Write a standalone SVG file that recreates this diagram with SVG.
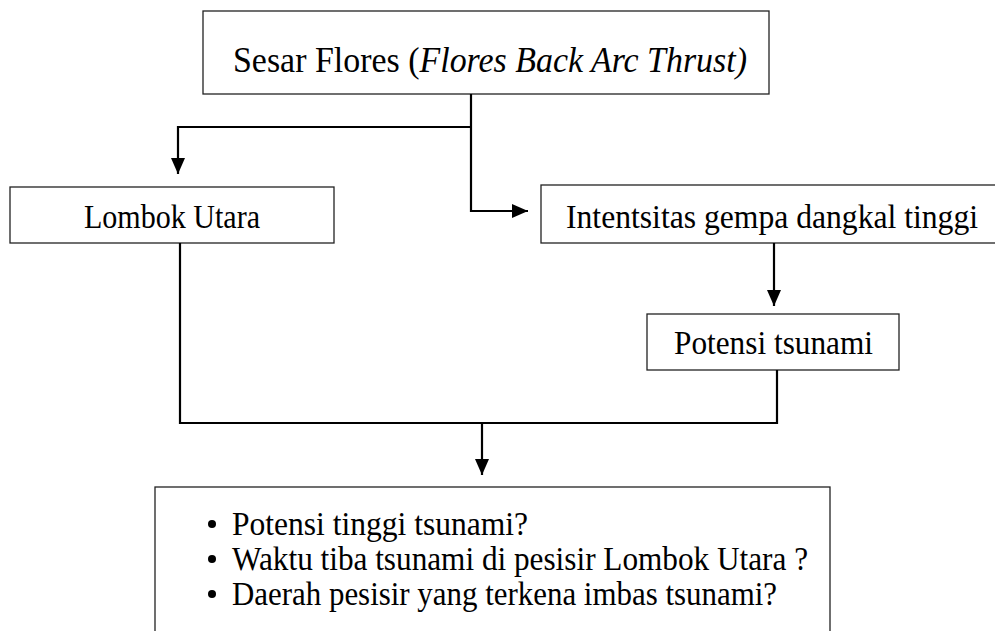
<svg xmlns="http://www.w3.org/2000/svg" width="995" height="631" viewBox="0 0 995 631">
<style>
.box{fill:#fff;stroke:#222;stroke-width:1.3}
.t{font-family:"Liberation Serif","Times New Roman",serif;font-size:34px;fill:#000}
.c{fill:none;stroke:#000;stroke-width:2.2}
</style>
<defs>
<marker id="a" viewBox="0 0 16 14" refX="16" refY="7" markerWidth="16" markerHeight="14" orient="auto" markerUnits="userSpaceOnUse">
<path d="M0,0 L16,7 L0,14 z" fill="#000"/>
</marker>
</defs>
<rect width="995" height="631" fill="#fff"/>
<g id="n1">
<rect class="box" x="203" y="11" width="566" height="83"/>
<text class="t" x="233" y="72" style="font-size:35px" textLength="514" lengthAdjust="spacingAndGlyphs">Sesar Flores (<tspan font-style="italic">Flores Back Arc Thrust)</tspan></text>
</g>
<g id="n2">
<rect class="box" x="10" y="187" width="324" height="56"/>
<text class="t" x="84" y="228" textLength="176" lengthAdjust="spacingAndGlyphs">Lombok Utara</text>
</g>
<g id="n3">
<rect class="box" x="541" y="185" width="470" height="58"/>
<text class="t" x="566" y="228" textLength="412" lengthAdjust="spacingAndGlyphs">Intentsitas gempa dangkal tinggi</text>
</g>
<g id="n4">
<rect class="box" x="647" y="314" width="252" height="56"/>
<text class="t" x="674" y="354" textLength="199" lengthAdjust="spacingAndGlyphs">Potensi tsunami</text>
</g>
<g id="n5">
<rect class="box" x="155" y="487" width="675" height="160"/>
<circle cx="212" cy="524" r="4"/>
<circle cx="212" cy="559" r="4"/>
<circle cx="212" cy="594" r="4"/>
<text class="t" x="232" y="535" textLength="296" lengthAdjust="spacingAndGlyphs">Potensi tinggi tsunami?</text>
<text class="t" x="232" y="570" textLength="576" lengthAdjust="spacingAndGlyphs">Waktu tiba tsunami di pesisir Lombok Utara ?</text>
<text class="t" x="232" y="605" textLength="545" lengthAdjust="spacingAndGlyphs">Daerah pesisir yang terkena imbas tsunami?</text>
</g>
<g id="connectors">
<path class="c" d="M471,94 V211 H528" marker-end="url(#a)"/>
<path class="c" d="M471,127 H178 V174" marker-end="url(#a)"/>
<path class="c" d="M774,243 V306" marker-end="url(#a)"/>
<path class="c" d="M180,243 V423 H777 V370"/>
<path class="c" d="M482,423 V475" marker-end="url(#a)"/>
</g>
</svg>
